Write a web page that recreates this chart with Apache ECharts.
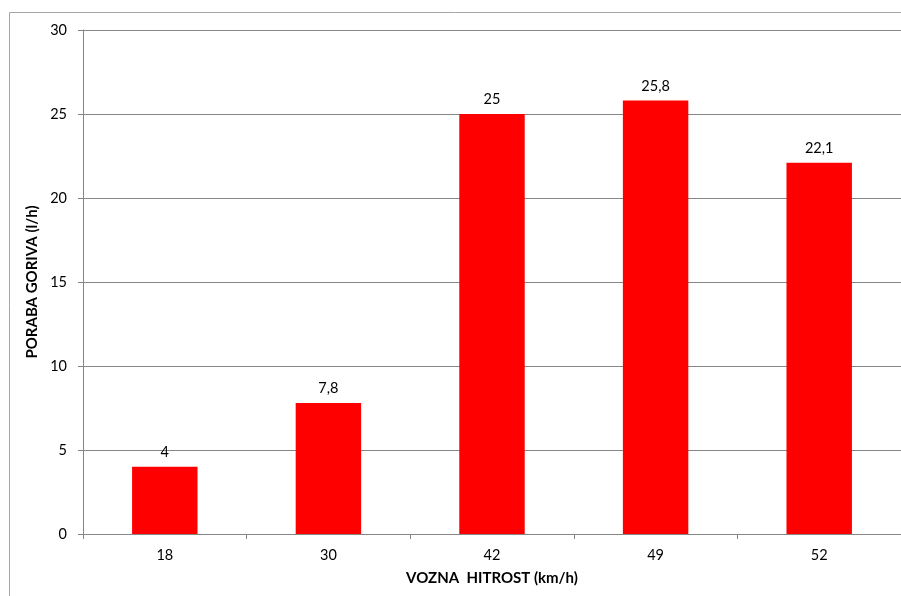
<!DOCTYPE html>
<html>
<head>
<meta charset="utf-8">
<script src="https://cdn.jsdelivr.net/npm/echarts@6/dist/echarts.min.js"></script>
<style>
html,body{margin:0;padding:0;background:#fff;}
#c{width:901px;height:596px;}
</style>
</head>
<body>
<div id="c"></div>
<script>
var categories = ['18', '30', '42', '49', '52'];
var values = [4, 7.8, 25, 25.8, 22.1];
var xTitle = 'VOZNA  HITROST (km/h)';
var yTitle = 'PORABA GORIVA (l/h)';

var FONT = 'Lato';
var chart = echarts.init(document.getElementById('c'));
chart.setOption({
  animation: false,
  backgroundColor: '#fff',
  graphic: [{
    type: 'polyline',
    shape: {points: [[9.5, 700], [9.5, 12.5], [1100, 12.5]]},
    style: {fill: 'none', stroke: '#a6a6a6', lineWidth: 1},
    silent: true
  }],
  grid: {left: 83, top: 30, right: -2, bottom: 62, containLabel: false},
  xAxis: {
    type: 'category',
    data: categories,
    name: xTitle,
    nameLocation: 'middle',
    nameGap: 37,
    nameTextStyle: {fontFamily: FONT, fontWeight: 'bold', fontSize: 15, color: '#000'},
    axisLine: {lineStyle: {color: '#868686'}},
    axisTick: {show: true, alignWithLabel: false, length: 5, lineStyle: {color: '#868686'}},
    axisLabel: {fontFamily: FONT, fontSize: 14.5, color: '#000', margin: 14}
  },
  yAxis: {
    type: 'value',
    min: 0, max: 30, interval: 5,
    name: yTitle,
    nameLocation: 'middle',
    nameGap: 38,
    nameTextStyle: {fontFamily: FONT, fontWeight: 'bold', fontSize: 15, color: '#000'},
    axisLine: {show: true, lineStyle: {color: '#868686'}},
    axisTick: {show: true, length: 5, lineStyle: {color: '#868686'}},
    axisLabel: {fontFamily: FONT, fontSize: 14.5, color: '#000', margin: 16},
    splitLine: {lineStyle: {color: '#868686'}}
  },
  series: [{
    type: 'bar',
    data: values,
    barWidth: '40%',
    itemStyle: {color: '#ff0000'},
    label: {
      show: true, position: 'top', distance: 7,
      fontFamily: FONT, fontSize: 14.5, color: '#000',
      formatter: function (p) { return String(p.value).replace('.', ','); }
    }
  }]
});
</script>
</body>
</html>
